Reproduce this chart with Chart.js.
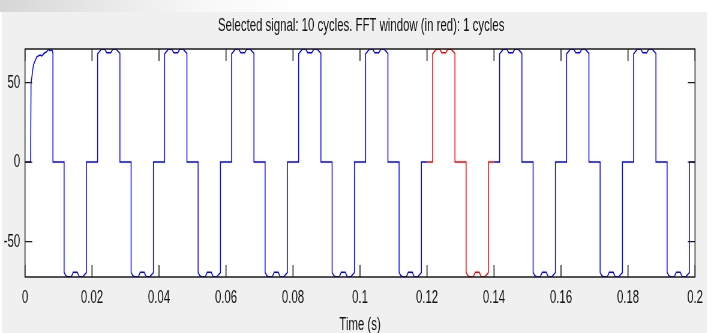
<!DOCTYPE html>
<html>
<head>
<meta charset="utf-8">
<script src="https://cdn.jsdelivr.net/npm/chart.js@4.4.1/dist/chart.umd.min.js"></script>
<style>
  html, body { margin: 0; padding: 0; background: #fff; }
  body { width: 722px; height: 333px; overflow: hidden; position: relative; }
  #topStrip { position: absolute; left: 0; top: 0; width: 722px; height: 12px;
    background: linear-gradient(to right, #d6d6d6 0px, #e6e6e6 90px, #f7f7f7 200px, #fff 300px); }
  #panel { position: absolute; left: 2px; top: 12px; width: 705px; height: 321px; background: #f0f0f0; }
  #wrap { position: absolute; left: 0; top: 0; width: 1204px; height: 333px;
    transform: scaleX(0.6); transform-origin: 0 0; }
  canvas { display: block; }
</style>
</head>
<body>
<div id="topStrip"></div>
<div id="panel"></div>
<div id="wrap"><canvas id="signalChart" width="1204" height="333"></canvas></div>
<script>
// the MATLAB figure was squeezed sideways, so draw wide and scale X
const squeeze = 0.6;

const chartTitle = 'Selected signal: 10 cycles. FFT window (in red): 1 cycles';
const xTitle = 'Time (s)';
const xTicks = [0, 0.02, 0.04, 0.06, 0.08, 0.1, 0.12, 0.14, 0.16, 0.18, 0.2];
const yTicks = [-50, 0, 50];
const fftWindow = [0.12, 0.14];

// time (s), one line per cycle
const timeS = [
  0, 0.00167, 0.0018, 0.0025, 0.0035, 0.0045, 0.005, 0.0057, 0.0065, 0.007, 0.0074, 0.0078, 0.0081, 0.00833, 0.00833, 0.01167, 0.01167, 0.0122, 0.0128, 0.0138, 0.0144, 0.0156, 0.0162, 0.0172, 0.01833, 0.01833,
  0.02, 0.02167, 0.02167, 0.0228, 0.0238, 0.0244, 0.0256, 0.0262, 0.0272, 0.02833, 0.02833, 0.03167, 0.03167, 0.0322, 0.0328, 0.0338, 0.0344, 0.0356, 0.0362, 0.0372, 0.03833, 0.03833,
  0.04, 0.04167, 0.04167, 0.0428, 0.0438, 0.0444, 0.0456, 0.0462, 0.0472, 0.04833, 0.04833, 0.05167, 0.05167, 0.0522, 0.0528, 0.0538, 0.0544, 0.0556, 0.0562, 0.0572, 0.05833, 0.05833,
  0.06, 0.06167, 0.06167, 0.0628, 0.0638, 0.0644, 0.0656, 0.0662, 0.0672, 0.06833, 0.06833, 0.07167, 0.07167, 0.0722, 0.0728, 0.0738, 0.0744, 0.0756, 0.0762, 0.0772, 0.07833, 0.07833,
  0.08, 0.08167, 0.08167, 0.0828, 0.0838, 0.0844, 0.0856, 0.0862, 0.0872, 0.08833, 0.08833, 0.09167, 0.09167, 0.0922, 0.0928, 0.0938, 0.0944, 0.0956, 0.0962, 0.0972, 0.09833, 0.09833,
  0.1, 0.10167, 0.10167, 0.1028, 0.1038, 0.1044, 0.1056, 0.1062, 0.1072, 0.10833, 0.10833, 0.11167, 0.11167, 0.1122, 0.1128, 0.1138, 0.1144, 0.1156, 0.1162, 0.1172, 0.11833, 0.11833,
  0.12, 0.12167, 0.12167, 0.1228, 0.1238, 0.1244, 0.1256, 0.1262, 0.1272, 0.12833, 0.12833, 0.13167, 0.13167, 0.1322, 0.1328, 0.1338, 0.1344, 0.1356, 0.1362, 0.1372, 0.13833, 0.13833,
  0.14, 0.14167, 0.14167, 0.1428, 0.1438, 0.1444, 0.1456, 0.1462, 0.1472, 0.14833, 0.14833, 0.15167, 0.15167, 0.1522, 0.1528, 0.1538, 0.1544, 0.1556, 0.1562, 0.1572, 0.15833, 0.15833,
  0.16, 0.16167, 0.16167, 0.1628, 0.1638, 0.1644, 0.1656, 0.1662, 0.1672, 0.16833, 0.16833, 0.17167, 0.17167, 0.1722, 0.1728, 0.1738, 0.1744, 0.1756, 0.1762, 0.1772, 0.17833, 0.17833,
  0.18, 0.18167, 0.18167, 0.1828, 0.1838, 0.1844, 0.1856, 0.1862, 0.1872, 0.18833, 0.18833, 0.19167, 0.19167, 0.1922, 0.1928, 0.1938, 0.1944, 0.1956, 0.1962, 0.1972, 0.19833, 0.19833,
  0.2
];

// signal value, same layout as timeS
const signal = [
  0, 0, 49.5, 61, 66.2, 67.3, 66.7, 68.4, 69.4, 71, 70, 70.6, 70.4, 68.5, 0, 0, -69.5, -71.5, -72.2, -72.2, -69.3, -69.3, -72.2, -72.2, -69.5, 0,
  0, 0, 68, 71, 71, 68.8, 68.8, 71, 71, 68.3, 0, 0, -69.5, -71.5, -72.2, -72.2, -69.3, -69.3, -72.2, -72.2, -69.5, 0,
  0, 0, 68, 71, 71, 68.8, 68.8, 71, 71, 68.3, 0, 0, -69.5, -71.5, -72.2, -72.2, -69.3, -69.3, -72.2, -72.2, -69.5, 0,
  0, 0, 68, 71, 71, 68.8, 68.8, 71, 71, 68.3, 0, 0, -69.5, -71.5, -72.2, -72.2, -69.3, -69.3, -72.2, -72.2, -69.5, 0,
  0, 0, 68, 71, 71, 68.8, 68.8, 71, 71, 68.3, 0, 0, -69.5, -71.5, -72.2, -72.2, -69.3, -69.3, -72.2, -72.2, -69.5, 0,
  0, 0, 68, 71, 71, 68.8, 68.8, 71, 71, 68.3, 0, 0, -69.5, -71.5, -72.2, -72.2, -69.3, -69.3, -72.2, -72.2, -69.5, 0,
  0, 0, 68, 71, 71, 68.8, 68.8, 71, 71, 68.3, 0, 0, -69.5, -71.5, -72.2, -72.2, -69.3, -69.3, -72.2, -72.2, -69.5, 0,
  0, 0, 68, 71, 71, 68.8, 68.8, 71, 71, 68.3, 0, 0, -69.5, -71.5, -72.2, -72.2, -69.3, -69.3, -72.2, -72.2, -69.5, 0,
  0, 0, 68, 71, 71, 68.8, 68.8, 71, 71, 68.3, 0, 0, -69.5, -71.5, -72.2, -72.2, -69.3, -69.3, -72.2, -72.2, -69.5, 0,
  0, 0, 68, 71, 71, 68.8, 68.8, 71, 71, 68.3, 0, 0, -69.5, -71.5, -72.2, -72.2, -69.3, -69.3, -72.2, -72.2, -69.5, 0,
  0
];

const allPoints = timeS.map((t, i) => ({ x: t, y: signal[i] }));
const inFftWindow = ctx => ctx.p0.parsed.x >= fftWindow[0] && ctx.p1.parsed.x <= fftWindow[1];

const fontFamily = '"Liberation Sans", Arial, Helvetica, sans-serif';

// white plot area + MATLAB style box with inward ticks
const axesBox = {
  id: 'axesBox',
  beforeDatasetsDraw(chart) {
    const { ctx, chartArea: a } = chart;
    ctx.save();
    ctx.fillStyle = '#fff';
    ctx.fillRect(a.left, a.top, a.right - a.left, a.bottom - a.top);
    ctx.restore();
  },
  afterDraw(chart) {
    const { ctx, chartArea: a } = chart;
    const xs = chart.scales.x, ys = chart.scales.y;
    const tickLen = 12;
    ctx.save();
    ctx.strokeStyle = '#1a1a1a';
    ctx.lineWidth = 1.6;
    xs.ticks.forEach(t => {
      const px = xs.getPixelForValue(t.value);
      ctx.beginPath();
      ctx.moveTo(px, a.bottom); ctx.lineTo(px, a.bottom - tickLen);
      ctx.moveTo(px, a.top); ctx.lineTo(px, a.top + tickLen);
      ctx.stroke();
    });
    ctx.lineWidth = 1.2;
    ys.ticks.forEach(t => {
      const py = ys.getPixelForValue(t.value);
      ctx.beginPath();
      ctx.moveTo(a.left, py); ctx.lineTo(a.left + tickLen, py);
      ctx.moveTo(a.right, py); ctx.lineTo(a.right - tickLen, py);
      ctx.stroke();
    });
    ctx.lineWidth = 1.5;
    ctx.strokeRect(a.left, a.top, a.right - a.left, a.bottom - a.top);
    ctx.restore();
  }
};

const chart = new Chart(document.getElementById('signalChart'), {
  type: 'line',
  data: {
    datasets: [{
      label: 'Signal',
      data: allPoints,
      borderColor: '#0000ff',
      borderWidth: 1.5,
      pointRadius: 0,
      tension: 0,
      segment: { borderColor: ctx => inFftWindow(ctx) ? '#ff0000' : undefined }
    }]
  },
  options: {
    responsive: false,
    animation: false,
    events: [],
    layout: { padding: 0 },
    plugins: {
      legend: { display: false },
      tooltip: { enabled: false },
      title: {
        display: true,
        text: chartTitle,
        color: '#111',
        font: { family: fontFamily, size: 19, weight: 'normal', lineHeight: 1.2 },
        padding: { top: 14.6, bottom: 11.6 }
      }
    },
    scales: {
      x: {
        type: 'linear',
        min: 0,
        max: 0.2,
        afterBuildTicks: s => { s.ticks = xTicks.map(v => ({ value: v })); },
        afterFit: s => { s.height = 56; },
        grid: { display: false, drawTicks: false },
        border: { display: false },
        ticks: {
          color: '#111',
          font: { family: fontFamily, size: 19 },
          padding: 9,
          maxRotation: 0,
          autoSkip: false,
          callback: v => String(v)
        },
        title: {
          display: true,
          text: xTitle,
          color: '#111',
          font: { family: fontFamily, size: 19 },
          padding: { top: 0, bottom: -3.4 }
        }
      },
      y: {
        type: 'linear',
        min: -72.3,
        max: 71.1,
        afterBuildTicks: s => { s.ticks = yTicks.map(v => ({ value: v })); },
        afterFit: s => { s.width = 25 / squeeze; },
        grid: { display: false, drawTicks: false },
        border: { display: false },
        ticks: {
          color: '#111',
          font: { family: fontFamily, size: 19 },
          padding: 8,
          autoSkip: false,
          callback: v => String(v)
        }
      },
      // empty right axis: only reserves the margin right of the plot box
      yRight: {
        type: 'linear',
        position: 'right',
        min: -72.3,
        max: 71.1,
        afterFit: s => { s.width = 1204 - 695 / squeeze; },
        grid: { display: false, drawTicks: false },
        border: { display: false },
        ticks: { display: false }
      }
    }
  },
  plugins: [axesBox]
});
</script>
</body>
</html>
